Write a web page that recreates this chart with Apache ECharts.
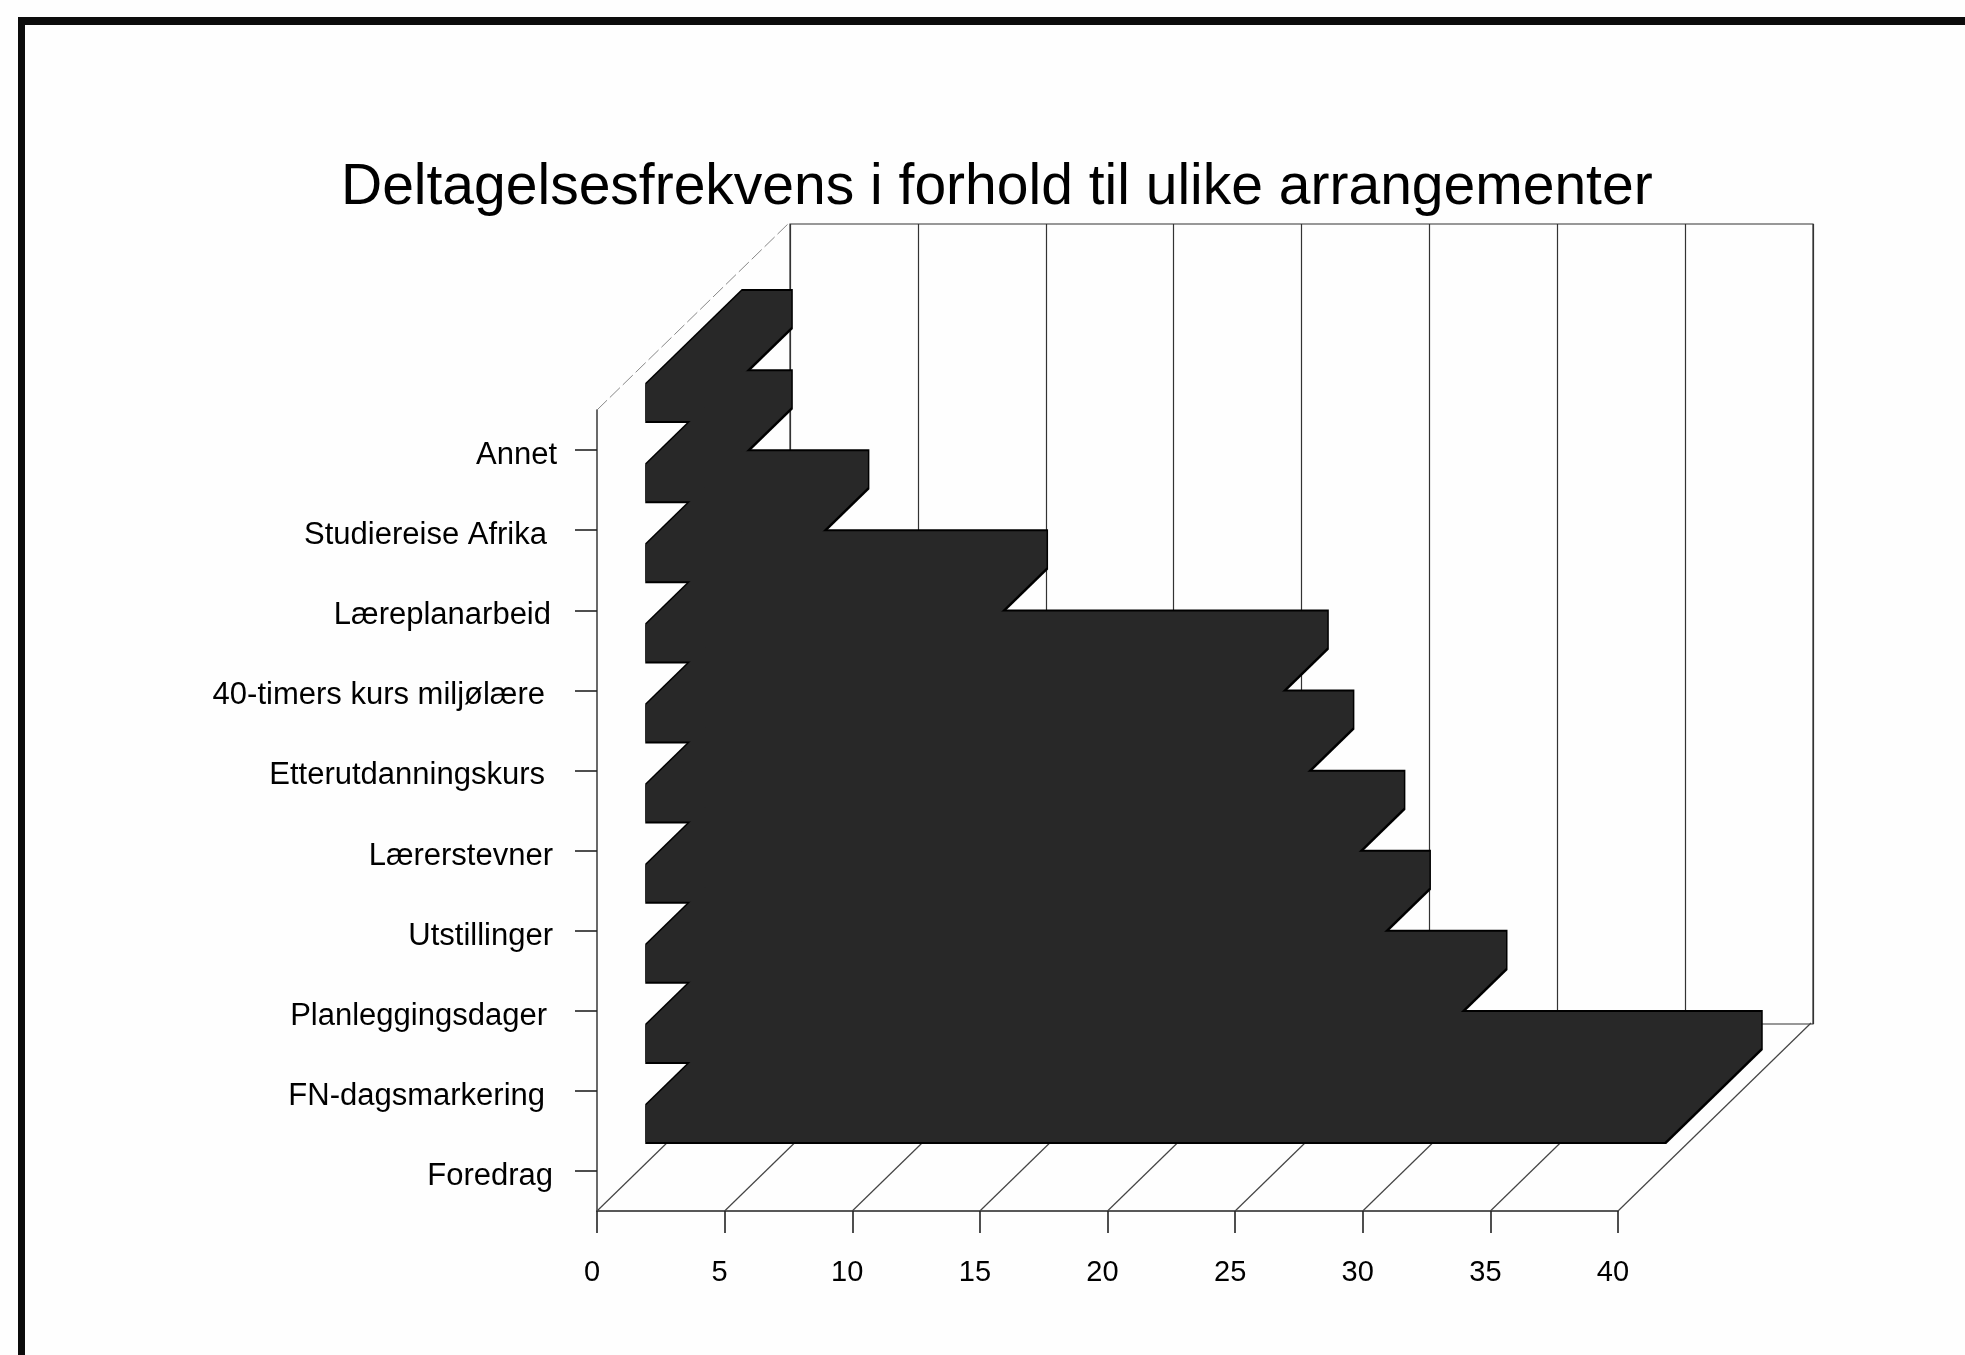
<!DOCTYPE html>
<html>
<head>
<meta charset="utf-8">
<style>html,body{margin:0;padding:0;background:#fefefe;overflow:hidden}#c{width:1965px;height:1355px;filter:blur(0.7px)}</style>
<script src="https://cdn.jsdelivr.net/npm/echarts@6/dist/echarts.min.js"></script>
</head>
<body>
<div id="c"></div>
<script>
const titleText = 'Deltagelsesfrekvens i forhold til ulike arrangementer';
const categories = ['Annet','Studiereise Afrika','Læreplanarbeid','40-timers kurs miljølære','Etterutdanningskurs','Lærerstevner','Utstillinger','Planleggingsdager','FN-dagsmarkering','Foredrag'];
const values = [2,2,5,12,23,24,26,27,30,40];
const xTicks = [0,5,10,15,20,25,30,35,40];

// oblique projection of the 3D box
const DEPTH_X = 193, DEPTH_Y = 188, BAR_FRONT = 0.25, BAR_BACK = 0.75, BAR_HEIGHT = 0.5;
const labelInset = [0,10,6,12,12,4,4,10,12,4];
const font = {fontFamily:'"Liberation Sans",Arial,sans-serif', color:'#000'};

function shift(p, d){ return [p[0]+DEPTH_X*d, p[1]-DEPTH_Y*d]; }

function barItem(params, api, styleObj, insetX, insetY){
  const v = api.value(0), i = api.value(1);
  const h = api.size([0,1])[1]*BAR_HEIGHT/2 - insetY;
  const c0 = api.coord([0,i]), c1 = api.coord([v,i]);
  c1[0] -= insetX;
  const low0=[c0[0],c0[1]+h], up0=[c0[0],c0[1]-h], low1=[c1[0],c1[1]+h], up1=[c1[0],c1[1]-h];
  const pts = [shift(low0,BAR_FRONT), shift(low1,BAR_FRONT), shift(low1,BAR_BACK), shift(up1,BAR_BACK), shift(up0,BAR_BACK), shift(up0,BAR_FRONT)];
  return {type:'polygon', shape:{points:pts}, style:styleObj};
}
const barData = values.map((v,i)=>[v,i]);

const rich = {};
labelInset.forEach((p,i)=>{ rich['l'+i] = Object.assign({fontSize:31, padding:[11,p,0,0]}, font); });

const option = {
  animation:false,
  backgroundColor:'#fefefe',
  title:{text:titleText, left:336, top:155, textStyle:Object.assign({},font,{fontSize:57, fontWeight:'normal'})},
  grid:[
    {left:597, top:410, width:1021, height:801},
    {left:790, top:224, width:1023, height:800, show:true, borderColor:'#333', borderWidth:1.2, backgroundColor:'transparent'}
  ],
  xAxis:[
    {gridIndex:0, type:'value', min:0, max:40, interval:5, position:'bottom',
     axisLine:{show:true, onZero:false, lineStyle:{color:'#222', width:1.6}},
     axisTick:{show:true, inside:false, length:22, lineStyle:{color:'#222', width:1.6}},
     axisLabel:Object.assign({fontSize:29, margin:47, padding:[0,10,0,0], showMinLabel:true, showMaxLabel:true},font),
     splitLine:{show:false}},
    {gridIndex:1, type:'value', min:0, max:40, interval:5, position:'bottom',
     axisLine:{show:false}, axisTick:{show:false}, axisLabel:{show:false},
     splitLine:{show:true, lineStyle:{color:'#333', width:1.2}}}
  ],
  yAxis:[
    {gridIndex:0, type:'category', inverse:true, data:categories,
     axisLine:{show:true, onZero:false, lineStyle:{color:'#444', width:1.6}},
     axisTick:{show:true, alignWithLabel:true, length:22, lineStyle:{color:'#222', width:1.6}},
     axisLabel:{margin:40, interval:0, formatter:(v,i)=>'{l'+i+'|'+v+'}', rich:rich},
     splitLine:{show:false}},
    {gridIndex:1, type:'category', inverse:true, data:categories,
     axisLine:{show:false}, axisTick:{show:false}, axisLabel:{show:false}, splitLine:{show:false}}
  ],
  series:[
    {type:'custom', name:'floor', xAxisIndex:0, yAxisIndex:0, silent:true, z:1,
     data:xTicks.map(t=>[t,categories.length-1]),
     renderItem:(params,api)=>{
       const p=api.coord([api.value(0),api.value(1)]);
       const h=api.size([0,1])[1]/2;
       const a=[p[0],p[1]+h], b=shift(a,1);
       return {type:'line', shape:{x1:a[0],y1:a[1],x2:b[0],y2:b[1]}, style:{stroke:'#444',lineWidth:1.2}};
     }},
    {type:'custom', name:'wallEdge', xAxisIndex:0, yAxisIndex:0, silent:true, z:1,
     data:[[0,0]],
     renderItem:(params,api)=>{
       const p=api.coord([api.value(0),api.value(1)]);
       const h=api.size([0,1])[1]/2;
       const a=[p[0],p[1]-h], b=shift(a,1);
       return {type:'line', shape:{x1:a[0],y1:a[1],x2:b[0],y2:b[1]}, style:{stroke:'#888',lineWidth:1,lineDash:[14,4]}};
     }},
    {type:'custom', name:'barEdge', xAxisIndex:0, yAxisIndex:0, silent:true, z:3,
     data:barData,
     renderItem:(params,api)=>barItem(params,api,{fill:'#000'},0,0)},
    {type:'custom', name:'barFill', xAxisIndex:0, yAxisIndex:0, silent:true, z:4,
     data:barData,
     renderItem:(params,api)=>barItem(params,api,{fill:'#282828'},1.5,2)}
  ],
  graphic:[
    {type:'rect', left:18, top:17, shape:{width:7, height:1338}, style:{fill:'#0c0c0c'}, silent:true},
    {type:'rect', left:18, top:17, shape:{width:1947, height:8}, style:{fill:'#0c0c0c'}, silent:true}
  ]
};
echarts.init(document.getElementById('c')).setOption(option);
</script>
</body>
</html>
